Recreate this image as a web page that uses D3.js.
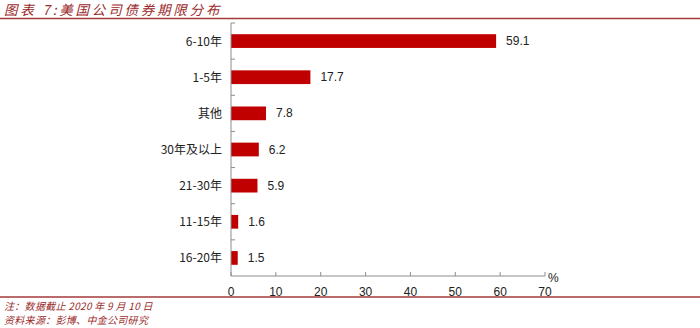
<!DOCTYPE html>
<html>
<head>
<meta charset="utf-8">
<script src="https://cdn.jsdelivr.net/npm/d3@7.9.0/dist/d3.min.js"></script>
<style>
  body { margin: 0; background: #fff; }
  svg { display: block; }
  .cn { font-family: "Noto Sans CJK SC", sans-serif; }
  .num { font-family: "Liberation Sans", Arial, sans-serif; }
</style>
</head>
<body>
<svg id="chart" width="700" height="328"></svg>
<script>
const categories = ['6-10年', '1-5年', '其他', '30年及以上', '21-30年', '11-15年', '16-20年'];
const values = [59.1, 17.7, 7.8, 6.2, 5.9, 1.6, 1.5];
const xTicks = [0, 10, 20, 30, 40, 50, 60, 70];

const svg = d3.select('#chart');
const red = '#c00000';
const titleRed = '#9b2b2b';
const axisGray = '#8c8c8c';

// title + rules
svg.append('text')
  .attr('class', 'cn')
  .attr('x', 4).attr('y', 15)
  .attr('font-size', 13.5)
  .attr('letter-spacing', 2.8)
  .attr('font-style', 'italic')
  .attr('fill', titleRed)
  .text('图表 7:美国公司债券期限分布');

svg.append('line')
  .attr('x1', 0).attr('x2', 700).attr('y1', 18.5).attr('y2', 18.5)
  .attr('stroke', '#a33a3a').attr('stroke-width', 1.3);

svg.append('line')
  .attr('x1', 0).attr('x2', 700).attr('y1', 297).attr('y2', 297)
  .attr('stroke', '#a33a3a').attr('stroke-width', 1.3);

svg.append('text')
  .attr('class', 'cn')
  .attr('x', 4).attr('y', 310)
  .attr('font-size', 10)
  .attr('letter-spacing', 0.3)
  .attr('font-style', 'italic')
  .attr('fill', titleRed)
  .text('注：数据截止 2020 年 9 月 10 日');

svg.append('text')
  .attr('class', 'cn')
  .attr('x', 4).attr('y', 324)
  .attr('font-size', 10)
  .attr('letter-spacing', 0.3)
  .attr('font-style', 'italic')
  .attr('fill', titleRed)
  .text('资料来源：彭博、中金公司研究');

// scales
const x = d3.scaleLinear().domain([0, 70]).range([231, 545]);
const y = d3.scaleBand().domain(categories).range([23, 276]).paddingInner(0.62).paddingOuter(0.31);

const g = svg.append('g');

// bars
g.selectAll('rect.bar')
  .data(values)
  .enter()
  .append('rect')
  .attr('class', 'bar')
  .attr('x', x(0))
  .attr('y', (d, i) => y(categories[i]))
  .attr('width', d => x(d) - x(0))
  .attr('height', y.bandwidth())
  .attr('fill', red);

// value labels
g.selectAll('text.val')
  .data(values)
  .enter()
  .append('text')
  .attr('class', 'num')
  .attr('x', d => x(d) + 10)
  .attr('y', (d, i) => y(categories[i]) + y.bandwidth() / 2 + 4)
  .attr('font-size', 12)
  .attr('fill', '#222')
  .text(d => d.toFixed(1));

// y axis line + ticks at band boundaries
const y0 = 23;
g.append('line')
  .attr('x1', x(0)).attr('x2', x(0))
  .attr('y1', y0).attr('y2', 276)
  .attr('stroke', axisGray);
g.selectAll('line.ytick')
  .data(d3.range(categories.length))
  .enter()
  .append('line')
  .attr('x1', x(0)).attr('x2', x(0) + 4)
  .attr('y1', i => y0 + i * (253 / categories.length))
  .attr('y2', i => y0 + i * (253 / categories.length))
  .attr('stroke', axisGray);

// category labels
g.selectAll('text.cat')
  .data(categories)
  .enter()
  .append('text')
  .attr('class', 'cn')
  .attr('x', x(0) - 9)
  .attr('y', d => y(d) + y.bandwidth() / 2 + 4.5)
  .attr('text-anchor', 'end')
  .attr('font-size', 12)
  .attr('fill', '#222')
  .text(d => d);

// x axis
g.append('line')
  .attr('x1', x(0)).attr('x2', x(70))
  .attr('y1', 276).attr('y2', 276)
  .attr('stroke', axisGray);
g.selectAll('line.xtick')
  .data(xTicks)
  .enter()
  .append('line')
  .attr('x1', d => x(d)).attr('x2', d => x(d))
  .attr('y1', 276).attr('y2', 272)
  .attr('stroke', axisGray);
g.selectAll('text.xlab')
  .data(xTicks)
  .enter()
  .append('text')
  .attr('class', 'num')
  .attr('x', d => x(d))
  .attr('y', 296)
  .attr('text-anchor', 'middle')
  .attr('font-size', 12)
  .attr('fill', '#222')
  .text(d => d);

svg.append('text')
  .attr('class', 'num')
  .attr('x', 548).attr('y', 282)
  .attr('font-size', 12)
  .attr('fill', '#222')
  .text('%');
</script>
</body>
</html>
